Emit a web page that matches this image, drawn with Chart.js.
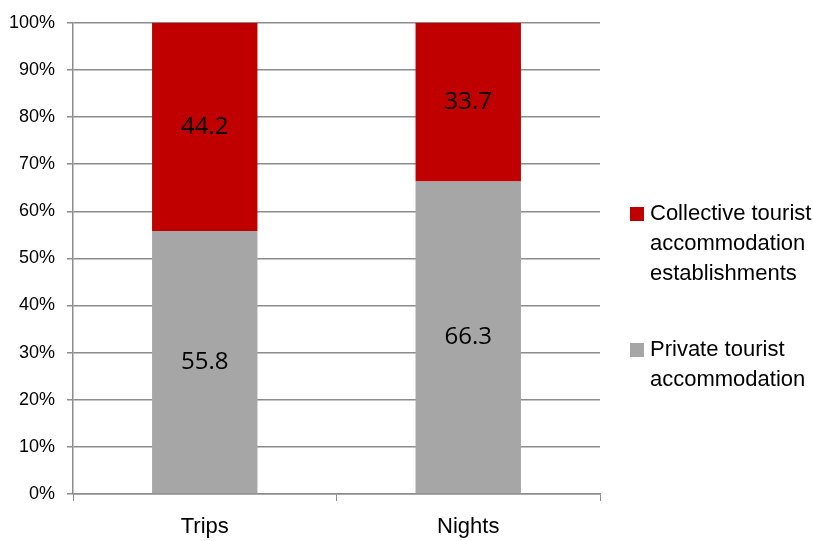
<!DOCTYPE html>
<html>
<head>
<meta charset="utf-8">
<script src="https://cdn.jsdelivr.net/npm/chart.js@4/dist/chart.umd.min.js"></script>
<style>
  html, body { margin: 0; padding: 0; background: #fff; }
  #wrap { width: 813px; height: 541px; position: relative; }
</style>
</head>
<body>
<div id="wrap"><canvas id="myChart"></canvas></div>
<script>
// categories and series (percent shares)
const categories = ["Trips", "Nights"];
const privateShare = [55.8, 66.3];
const collectiveShare = [44.2, 33.7];
const yTicks = [0, 10, 20, 30, 40, 50, 60, 70, 80, 90, 100];

const legendLines = {
  "Collective tourist accommodation establishments": ["Collective tourist", "accommodation", "establishments"],
  "Private tourist accommodation": ["Private tourist", "accommodation"],
};

// values written inside each bar segment
const barLabels = {
  id: "barLabels",
  afterDatasetsDraw(chart) {
    const ctx = chart.ctx;
    ctx.save();
    ctx.font = "24px 'Open Sans', sans-serif";
    ctx.fillStyle = "#000";
    ctx.textAlign = "center";
    ctx.textBaseline = "middle";
    chart.data.datasets.forEach((ds, i) => {
      chart.getDatasetMeta(i).data.forEach((bar, j) => {
        const mid = (bar.y + bar.base) / 2;
        ctx.fillText(ds.data[j].toFixed(1), bar.x, mid);
      });
    });
    ctx.restore();
  },
};

// legend on the right, red series on top, multi-line names
const sideLegend = {
  id: "sideLegend",
  afterDraw(chart) {
    const ctx = chart.ctx;
    ctx.save();
    ctx.font = "22px 'Liberation Sans', Arial, sans-serif";
    ctx.textBaseline = "middle";
    ctx.textAlign = "left";
    const order = [1, 0];
    const starts = [214, 350];
    order.forEach((di, k) => {
      const ds = chart.data.datasets[di];
      const lines = legendLines[ds.label];
      let y = starts[k];
      ctx.fillStyle = ds.backgroundColor;
      ctx.fillRect(630, y - 7, 14, 14);
      ctx.fillStyle = "#000";
      lines.forEach((ln) => {
        ctx.fillText(ln, 650, y);
        y += 30;
      });
    });
    ctx.restore();
  },
};

const ctx = document.getElementById("myChart");
const myChart = new Chart(ctx, {
  type: "bar",
  data: {
    labels: categories,
    datasets: [
      {
        label: "Private tourist accommodation",
        data: privateShare,
        backgroundColor: "#a6a6a6",
        categoryPercentage: 1,
        barPercentage: 0.4,
      },
      {
        label: "Collective tourist accommodation establishments",
        data: collectiveShare,
        backgroundColor: "#c00000",
        categoryPercentage: 1,
        barPercentage: 0.4,
      },
    ],
  },
  options: {
    responsive: true,
    maintainAspectRatio: false,
    animation: false,
    layout: { padding: { left: 0, right: 213, top: 15, bottom: 0 } },
    scales: {
      x: {
        stacked: true,
        afterFit: (axis) => {
          axis.height = 47;
        },
        grid: {
          offset: true,
          drawOnChartArea: false,
          drawTicks: true,
          tickLength: 7,
          color: "#8c8c8c",
        },
        border: { color: "#8c8c8c", width: 1.5 },
        ticks: {
          color: "#000",
          padding: 13,
          font: { size: 22, family: "'Liberation Sans', Arial, sans-serif" },
        },
      },
      y: {
        stacked: true,
        min: 0,
        max: 100,
        afterFit: (axis) => {
          axis.width = 73;
        },
        afterBuildTicks: (axis) => {
          axis.ticks = yTicks.map((v) => ({ value: v }));
        },
        grid: {
          color: "#8c8c8c",
          lineWidth: 1.5,
          tickLength: 6,
        },
        border: { color: "#8c8c8c", width: 1.5 },
        ticks: {
          color: "#000",
          padding: 12,
          callback: (v) => v + "%",
          font: { size: 18, family: "'Liberation Sans', Arial, sans-serif" },
        },
      },
    },
    plugins: {
      legend: { display: false },
      tooltip: { enabled: false },
    },
  },
  plugins: [barLabels, sideLegend],
});
</script>
</body>
</html>
